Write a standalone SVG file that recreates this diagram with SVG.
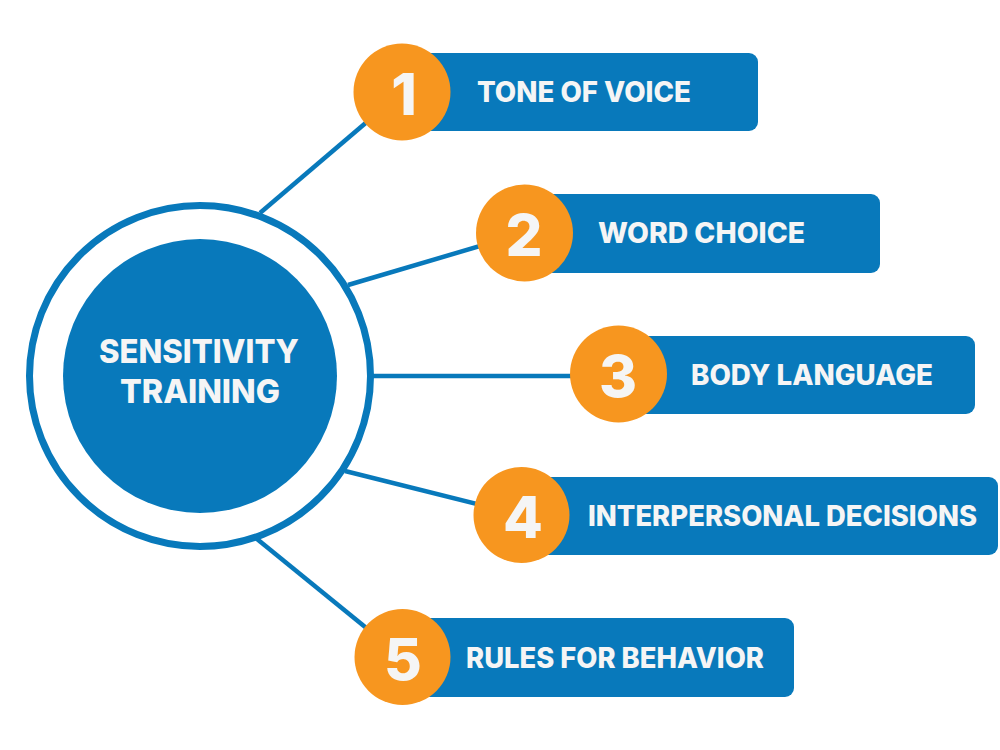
<svg xmlns="http://www.w3.org/2000/svg" width="1000" height="750" viewBox="0 0 1000 750">
<style>
.bar{fill:#0879BB}
.badge{fill:#F7961F}
.num{font-family:Inter,"Open Sans",sans-serif;font-weight:800;font-size:58px;fill:#F5F5F5;text-anchor:middle}
.lbl{font-family:Inter,"Open Sans",sans-serif;font-weight:800;font-size:28px;fill:#F5F5F5}
.ctr{font-family:Inter,"Open Sans",sans-serif;font-weight:800;font-size:33px;fill:#F5F5F5;text-anchor:middle}
.conn{stroke:#0879BB;stroke-width:4.5;fill:none}
</style>
<rect width="1000" height="750" fill="#FFFFFF"/>
<g id="connectors">
<line class="conn" x1="260" y1="213" x2="402" y2="92"/>
<line class="conn" x1="348" y1="285" x2="524" y2="233"/>
<line class="conn" x1="372" y1="376" x2="618" y2="376"/>
<line class="conn" x1="345" y1="471" x2="521" y2="515"/>
<line class="conn" x1="257" y1="539" x2="402" y2="657"/>
</g>
<g id="center">
<circle cx="200" cy="376" r="170.5" fill="#FFFFFF" stroke="#0879BB" stroke-width="7"/>
<circle cx="200" cy="376" r="137" fill="#0879BB"/>
<text class="ctr" x="199" y="363" textLength="200" lengthAdjust="spacingAndGlyphs">SENSITIVITY</text>
<text class="ctr" x="200" y="403" textLength="160" lengthAdjust="spacingAndGlyphs">TRAINING</text>
</g>
<g id="item1">
<rect class="bar" x="402" y="53" width="356" height="78" rx="9"/>
<circle class="badge" cx="402" cy="92" r="48.5"/>
<text class="num" x="404" y="115">1</text>
<text class="lbl" x="477" y="102" textLength="214" lengthAdjust="spacingAndGlyphs">TONE OF VOICE</text>
</g>
<g id="item2">
<rect class="bar" x="524" y="194" width="356" height="79" rx="9"/>
<circle class="badge" cx="524.5" cy="233" r="48.5"/>
<text class="num" x="524" y="256">2</text>
<text class="lbl" x="598" y="243" textLength="207" lengthAdjust="spacingAndGlyphs">WORD CHOICE</text>
</g>
<g id="item3">
<rect class="bar" x="618" y="336" width="357" height="78" rx="9"/>
<circle class="badge" cx="618.5" cy="374" r="48.5"/>
<text class="num" x="618" y="397">3</text>
<text class="lbl" x="691" y="385" textLength="242" lengthAdjust="spacingAndGlyphs">BODY LANGUAGE</text>
</g>
<g id="item4">
<rect class="bar" x="521" y="477" width="477" height="78" rx="9"/>
<circle class="badge" cx="521.5" cy="515" r="48"/>
<text class="num" x="523" y="538">4</text>
<text class="lbl" x="588" y="526" textLength="389" lengthAdjust="spacingAndGlyphs">INTERPERSONAL DECISIONS</text>
</g>
<g id="item5">
<rect class="bar" x="402" y="618" width="392" height="79" rx="9"/>
<circle class="badge" cx="402.5" cy="657" r="48"/>
<text class="num" x="403" y="680">5</text>
<text class="lbl" x="466" y="668" textLength="298" lengthAdjust="spacingAndGlyphs">RULES FOR BEHAVIOR</text>
</g>
</svg>
